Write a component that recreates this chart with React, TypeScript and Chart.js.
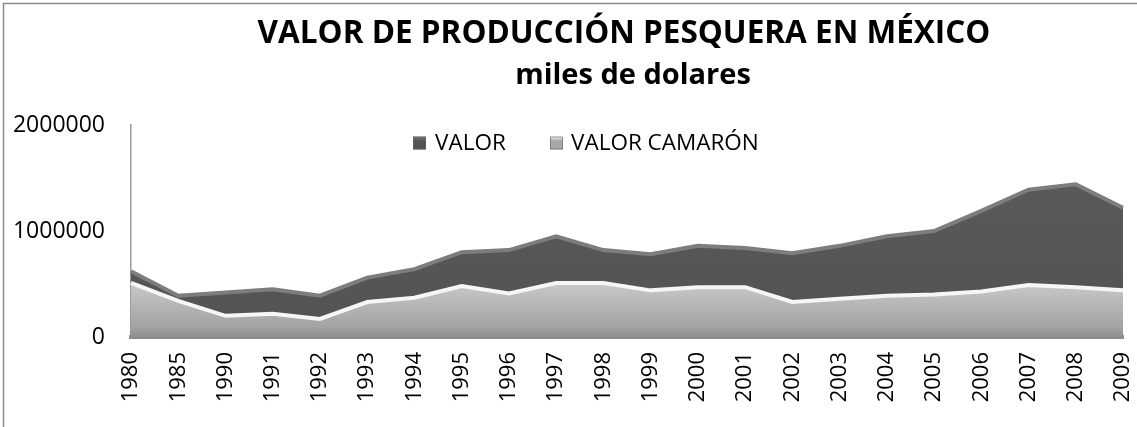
import React, { useEffect, useRef } from "react";
import { Chart, registerables } from "chart.js";

Chart.register(...registerables);

const years = ["1980","1985","1990","1991","1992","1993","1994","1995","1996","1997","1998","1999","2000","2001","2002","2003","2004","2005","2006","2007","2008","2009"];
const valor = [620000,390000,420000,450000,390000,560000,640000,800000,820000,950000,820000,780000,860000,840000,790000,860000,950000,1000000,1190000,1390000,1440000,1220000];
const valorCamaron = [510000,340000,200000,220000,170000,330000,370000,480000,410000,510000,510000,440000,470000,470000,330000,360000,390000,400000,430000,490000,470000,440000];
const yTicks = [0, 1000000, 2000000];
const titleLines = ["VALOR DE PRODUCCIÓN PESQUERA EN MÉXICO", "miles de dolares"];
const legendLabels = ["VALOR", "VALOR CAMARÓN"];

const FONT = '"Open Sans", "Liberation Sans", sans-serif';

const decorPlugin = {
  id: "decor",
  beforeDraw(chart: any) {
    const ctx = chart.ctx;
    ctx.save();
    ctx.fillStyle = "#ffffff";
    ctx.fillRect(0, 0, chart.width, chart.height);
    ctx.strokeStyle = "#8c8c8c";
    ctx.lineWidth = 1.5;
    ctx.strokeRect(3.5, 3.5, chart.width + 10, chart.height + 10);
    ctx.restore();
  },
  afterDraw(chart: any) {
    const ctx = chart.ctx;
    const area = chart.chartArea;
    const cx = (area.left + area.right) / 2;
    ctx.save();
    ctx.fillStyle = "#000000";
    ctx.textAlign = "center";
    ctx.textBaseline = "alphabetic";
    ctx.font = `bold 31.5px ${FONT}`;
    ctx.fillText(titleLines[0], cx - 3, 43);
    ctx.font = `bold 29px ${FONT}`;
    ctx.fillText(titleLines[1], cx + 6, 84);

    // legend
    ctx.font = `22.5px ${FONT}`;
    ctx.textAlign = "left";
    ctx.textBaseline = "middle";
    const items = [
      { x: 413, tx: 435, top: "#7a7a7a", main: "#535353", label: legendLabels[0] },
      { x: 550, tx: 571, top: "#f2f2f2", main: "#a8a8a8", label: legendLabels[1] },
    ];
    const ly = 143;
    for (const it of items) {
      const s = 13;
      const g = ctx.createLinearGradient(0, ly - s / 2, 0, ly + s / 2);
      g.addColorStop(0, it.top);
      g.addColorStop(0.35, it.main);
      g.addColorStop(1, it.main);
      ctx.fillStyle = g;
      ctx.fillRect(it.x, ly - s / 2, s, s);
      ctx.strokeStyle = "#666";
      ctx.lineWidth = 0.6;
      ctx.strokeRect(it.x + 0.5, ly - s / 2 + 0.5, s - 1, s - 1);
      ctx.fillStyle = "#000000";
      ctx.fillText(it.label, it.tx, ly + 1);
    }
    ctx.restore();
  },
};

export default function App() {
  const ref = useRef<HTMLCanvasElement | null>(null);

  useEffect(() => {
    document.body.style.margin = "0";
    const canvas = ref.current;
    if (!canvas) return;

    const darkFill = (c: any) => {
      const area = c.chart.chartArea;
      if (!area) return "#595959";
      const g = c.chart.ctx.createLinearGradient(0, area.top, 0, area.bottom);
      g.addColorStop(0, "#5b5b5b");
      g.addColorStop(1, "#535353");
      return g;
    };
    const lightFill = (c: any) => {
      const area = c.chart.chartArea;
      if (!area) return "#aaaaaa";
      const g = c.chart.ctx.createLinearGradient(0, area.top + 150, 0, area.bottom);
      g.addColorStop(0, "#d0d0d0");
      g.addColorStop(0.85, "#a2a2a2");
      g.addColorStop(1, "#8e8e8e");
      return g;
    };

    const chart = new Chart(canvas, {
      type: "line",
      data: {
        labels: years,
        datasets: [
          {
            label: legendLabels[0],
            data: valor,
            order: 2,
            fill: "origin",
            backgroundColor: darkFill,
            borderColor: "#7d7d7d",
            borderWidth: 4,
            pointRadius: 0,
            tension: 0,
          },
          {
            label: legendLabels[1],
            data: valorCamaron,
            order: 1,
            fill: "origin",
            backgroundColor: lightFill,
            borderColor: "#f6f6f6",
            borderWidth: 4,
            pointRadius: 0,
            tension: 0,
          },
        ],
      },
      options: {
        responsive: false,
        animation: false,
        devicePixelRatio: 1,
        layout: { padding: { top: 125, right: 14, left: 0, bottom: 0 } },
        plugins: {
          legend: { display: false },
          title: { display: false },
          tooltip: { enabled: false },
        },
        scales: {
          x: {
            type: "category",
            offset: false,
            grid: { display: false, drawTicks: false },
            border: { display: true, color: "#8c8c8c", width: 4 },
            ticks: {
              maxRotation: 90,
              minRotation: 90,
              autoSkip: false,
              padding: 15,
              color: "#000000",
              font: { family: FONT, size: 22 },
            },
            afterFit(scale: any) {
              scale.height = 90;
              scale.paddingLeft = 0;
              scale.paddingRight = 0;
            },
          },
          y: {
            type: "linear",
            min: 0,
            max: 2000000,
            grid: { display: false, drawTicks: false },
            border: { display: true, color: "#9a9a9a", width: 1.5 },
            afterBuildTicks(scale: any) {
              scale.ticks = yTicks.map((v) => ({ value: v }));
            },
            ticks: {
              padding: 26,
              color: "#000000",
              font: { family: FONT, size: 23 },
              callback: (v: any) => String(v),
            },
            afterFit(scale: any) {
              scale.width = 131;
              scale.paddingTop = 0;
              scale.paddingBottom = 0;
            },
          },
        },
      },
      plugins: [decorPlugin],
    });

    return () => chart.destroy();
  }, []);

  return (
    <div style={{ width: 1137, height: 427 }}>
      <canvas ref={ref} width={1137} height={427} style={{ display: "block" }} />
    </div>
  );
}
